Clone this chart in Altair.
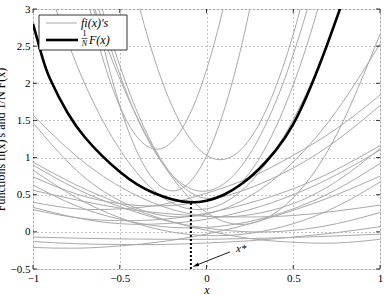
import altair as alt
import pandas as pd

# x positions at which every curve is read
X_GRID = [-1.0, -0.75, -0.5, -0.25, 0.0, 0.25, 0.5, 0.75, 1.0]

# gray curves f_i(x), values read at X_GRID (values above 3 leave the plot)
f_A   = [12.03, 7.50, 4.15, 1.99, 1.03, 1.25, 2.66, 5.27, 9.06]
f_B   = [7.66, 3.87, 1.69, 1.13, 2.18, 4.84, 9.11, 15.0, 22.5]
f_E   = [8.59, 4.37, 1.70, 0.59, 1.02, 3.01, 6.54, 11.62, 18.26]
f_S1  = [7.08, 4.17, 2.12, 0.91, 0.55, 1.05, 2.39, 4.58, 7.62]
f_S2  = [7.35, 4.38, 2.24, 0.93, 0.45, 0.80, 1.98, 3.98, 6.82]
f_R1  = [5.86, 3.71, 2.06, 0.91, 0.26, 0.11, 0.46, 1.31, 2.66]
f_G   = [3.91, 2.26, 1.11, 0.46, 0.31, 0.66, 1.51, 2.86, 4.71]
f_C1  = [-0.21, -0.22, -0.19, -0.13, -0.03, 0.11, 0.29, 0.50, 0.75]
f_C2  = [-0.13, -0.16, -0.17, -0.17, -0.15, -0.12, -0.07, -0.01, 0.07]
f_C3  = [-0.07, -0.085, -0.095, -0.10, -0.10, -0.09, -0.075, -0.055, -0.03]
f_C4  = [0.94, 0.63, 0.38, 0.17, 0.02, -0.09, -0.14, -0.15, -0.10]
f_C5  = [0.90, 0.58, 0.34, 0.16, 0.05, 0.00, 0.02, 0.11, 0.26]
f_C6  = [0.83, 0.46, 0.19, 0.02, -0.05, -0.02, 0.11, 0.34, 0.67]
f_C7  = [0.63, 0.35, 0.17, 0.07, 0.06, 0.14, 0.31, 0.57, 0.92]
f_C8  = [0.56, 0.43, 0.32, 0.25, 0.21, 0.20, 0.22, 0.28, 0.36]
f_C9  = [0.33, 0.19, 0.11, 0.11, 0.17, 0.30, 0.50, 0.77, 1.10]
f_C10 = [0.30, 0.19, 0.15, 0.17, 0.25, 0.39, 0.58, 0.84, 1.16]
f_C11 = [1.57, 1.02, 0.61, 0.34, 0.21, 0.23, 0.38, 0.68, 1.12]
f_C12 = [1.47, 0.83, 0.42, 0.22, 0.24, 0.48, 0.94, 1.63, 2.53]
f_C13 = [0.40, 0.31, 0.31, 0.37, 0.52, 0.73, 1.03, 1.39, 1.84]
f_C14 = [0.74, 0.51, 0.38, 0.35, 0.42, 0.59, 0.86, 1.23, 1.70]

gray_curves = {
    "A": f_A, "B": f_B, "E": f_E, "S1": f_S1, "S2": f_S2, "R1": f_R1, "G": f_G,
    "C1": f_C1, "C2": f_C2, "C3": f_C3, "C4": f_C4, "C5": f_C5, "C6": f_C6,
    "C7": f_C7, "C8": f_C8, "C9": f_C9, "C10": f_C10, "C11": f_C11,
    "C12": f_C12, "C13": f_C13, "C14": f_C14,
}

# thick black curve (1/N) F(x)
F_X = [-1.0, -0.95, -0.9, -0.8, -0.7, -0.6, -0.5, -0.4, -0.3, -0.2, -0.1,
       0.0, 0.1, 0.2, 0.3, 0.4, 0.5, 0.6, 0.7, 0.8]
F_Y = [2.80, 2.38, 2.05, 1.60, 1.27, 1.02, 0.81, 0.64, 0.52, 0.44, 0.40,
       0.42, 0.50, 0.64, 0.84, 1.10, 1.45, 1.95, 2.55, 3.20]

X_STAR = -0.09
F_AT_X_STAR = 0.39

# annotation arrow (tail -> tip) and label
ARROW_X = [0.135, -0.06]
ARROW_Y = [-0.27, -0.45]
LABEL_X = [0.17]
LABEL_Y = [-0.235]

X_TICKS = [-1, -0.5, 0, 0.5, 1]
Y_TICKS = [-0.5, 0, 0.5, 1, 1.5, 2, 2.5, 3]

XMIN, XMAX, YMIN, YMAX = -1, 1, -0.5, 3
W, H = 347, 260
SERIF = "Liberation Serif"

rows = []
for name, ys in gray_curves.items():
    for xv, yv in zip(X_GRID, ys):
        rows.append({"id": name, "x": xv, "y": yv})
gray_df = pd.DataFrame(rows)
F_df = pd.DataFrame({"x": F_X, "y": F_Y})

xs = alt.Scale(domain=[XMIN, XMAX], nice=False, zero=False)
ys_ = alt.Scale(domain=[YMIN, YMAX], nice=False, zero=False)

LABEL_EXPR = "replace(format(datum.value, '~g'), '-', '\u2212')"
AX = dict(ticks=False, domain=False, grid=True, gridDash=[1, 3], gridColor="#666",
          gridWidth=0.8, labelFont=SERIF, labelFontSize=11, labelColor="black",
          labelOverlap=False, labelFlush=False, labelBound=False,
          titleFont=SERIF, titleFontWeight="normal", titleFontSize=12,
          titleColor="black", labelExpr=LABEL_EXPR, labelPadding=3)

x_axis = alt.Axis(values=X_TICKS, title="x", titleFontStyle="italic",
                  titlePadding=1, **AX)
y_axis = alt.Axis(values=Y_TICKS, title="Functions fi(x)'s and 1/N F(x)",
                  titleX=-26, **AX)


def X_():
    return alt.X("x:Q", scale=xs, axis=x_axis)


def Y_():
    return alt.Y("y:Q", scale=ys_, axis=y_axis)


gray = alt.Chart(gray_df).mark_line(color="#a9a9a9", strokeWidth=1,
                                    interpolate="natural", clip=True).encode(
    x=X_(), y=Y_(), detail="id:N")

thick = alt.Chart(F_df).mark_line(color="black", strokeWidth=2.6,
                                  interpolate="natural", clip=True).encode(
    x=X_(), y=Y_())

vline = alt.Chart(pd.DataFrame({"x": [X_STAR], "y": [YMIN], "y2": [F_AT_X_STAR]})).mark_rule(
    color="black", strokeWidth=2, strokeDash=[2, 2]).encode(
    x=X_(), y=Y_(), y2="y2:Q")

arrow_df = pd.DataFrame({"x": ARROW_X, "y": ARROW_Y, "o": [0, 1]})
arrow_line = alt.Chart(arrow_df).mark_line(color="black", strokeWidth=0.9).encode(
    x=X_(), y=Y_(), order="o:Q")
arrow_head = alt.Chart(arrow_df.iloc[[1]]).mark_point(
    shape="M0,-1L0.45,0.7L-0.45,0.7Z", filled=True, color="black", size=60,
    angle=248, opacity=1).encode(x=X_(), y=Y_())
arrow_text = alt.Chart(pd.DataFrame({"x": LABEL_X, "y": LABEL_Y, "t": ["x*"]})).mark_text(
    font=SERIF, fontStyle="italic", fontSize=11, align="left", baseline="middle").encode(
    x=X_(), y=Y_(), text="t:N")

# inner ticks (MATLAB style) on all four sides
tx = pd.DataFrame({"x": X_TICKS})
ty = pd.DataFrame({"y": Y_TICKS})
tick_b = alt.Chart(tx).mark_rule(color="black", strokeWidth=0.8).encode(
    x=X_(), y=alt.value(H), y2=alt.value(H - 4))
tick_t = alt.Chart(tx).mark_rule(color="black", strokeWidth=0.8).encode(
    x=X_(), y=alt.value(0), y2=alt.value(4))
tick_l = alt.Chart(ty).mark_rule(color="black", strokeWidth=0.8).encode(
    y=Y_(), x=alt.value(0), x2=alt.value(4))
tick_r = alt.Chart(ty).mark_rule(color="black", strokeWidth=0.8).encode(
    y=Y_(), x=alt.value(W), x2=alt.value(W - 4))

# legend (top-left, inside)
one = pd.DataFrame({"k": [0]})
leg_box = alt.Chart(one).mark_rect(fill="white", stroke="black", strokeWidth=0.8).encode(
    x=alt.value(6), x2=alt.value(94), y=alt.value(6), y2=alt.value(41))
leg_gray = alt.Chart(one).mark_rule(color="#a9a9a9", strokeWidth=1).encode(
    x=alt.value(13), x2=alt.value(44), y=alt.value(14))
leg_gray_t = alt.Chart(one).mark_text(font=SERIF, fontStyle="italic", fontSize=12,
                                      align="left", baseline="middle").encode(
    x=alt.value(48), y=alt.value(14), text=alt.value("fi(x)'s"))
leg_black = alt.Chart(one).mark_rule(color="black", strokeWidth=2.6).encode(
    x=alt.value(13), x2=alt.value(45), y=alt.value(31))
leg_num = alt.Chart(one).mark_text(font=SERIF, fontSize=8, align="center",
                                   baseline="middle").encode(
    x=alt.value(51.5), y=alt.value(25), text=alt.value("1"))
leg_bar = alt.Chart(one).mark_rule(color="black", strokeWidth=0.6).encode(
    x=alt.value(48.5), x2=alt.value(54.5), y=alt.value(29.5))
leg_den = alt.Chart(one).mark_text(font=SERIF, fontStyle="italic", fontSize=8,
                                   align="center", baseline="middle").encode(
    x=alt.value(51.5), y=alt.value(34.5), text=alt.value("N"))
leg_F = alt.Chart(one).mark_text(font=SERIF, fontStyle="italic", fontSize=12,
                                 align="left", baseline="middle").encode(
    x=alt.value(56), y=alt.value(31), text=alt.value("F(x)"))

chart = alt.layer(
    gray, thick, vline, arrow_line, arrow_head, arrow_text,
    tick_b, tick_t, tick_l, tick_r,
    leg_box, leg_gray, leg_gray_t, leg_black, leg_num, leg_bar, leg_den, leg_F,
).properties(
    width=W, height=H,
    padding={"left": 33, "top": 9, "right": 5, "bottom": 26},
    autosize=alt.AutoSizeParams(type="none"),
).configure_view(
    stroke="black", strokeWidth=1.2
).configure(background="white")

chart.save("out.html", embed_options={"renderer": "svg", "actions": False})
